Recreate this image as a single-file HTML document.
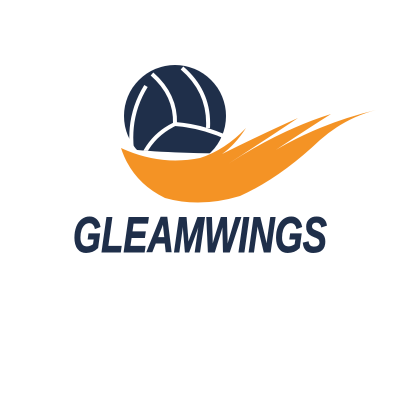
<!DOCTYPE html>
<html><head><meta charset="utf-8"><style>
html,body{margin:0;padding:0;background:#fff;width:400px;height:400px;overflow:hidden}
</style></head><body>
<svg width="400" height="400" viewBox="0 0 400 400">
<defs><clipPath id="bc"><path d="M0 0H400V150Q190 158 120 148Z"/></clipPath></defs>
<g clip-path="url(#bc)">
<circle cx="175" cy="116" r="51" fill="#1f2f4a"/>
<g fill="none" stroke="#fff" stroke-width="4">
<path d="M152 74Q176 95 175 124"/>
<path d="M182 68Q210 92 208 128"/>
<path d="M175 124Q202 126 228 138"/>
<path d="M175 124Q152 135 142 158"/>
<path d="M146 86Q128 115 132 150"/>
</g>
</g>
<path fill="#f49325" d="M121 148Q160 166 200 158Q225 150 246 128Q235 145 222 154Q260 135 298 118Q265 140 228 164Q280 130 331 114Q290 140 240 174Q300 128 376 110Q345 118 320 140Q280 178 240 196Q200 208 165 198Q132 182 121 148Z"/>
<text x="200" y="252" text-anchor="middle" font-family="Liberation Sans, sans-serif" font-weight="bold" font-style="italic" font-size="50" fill="#1f2f4a" stroke="#1f2f4a" stroke-width="1" textLength="254" lengthAdjust="spacingAndGlyphs">GLEAMWINGS</text>
</svg>
</body></html>
